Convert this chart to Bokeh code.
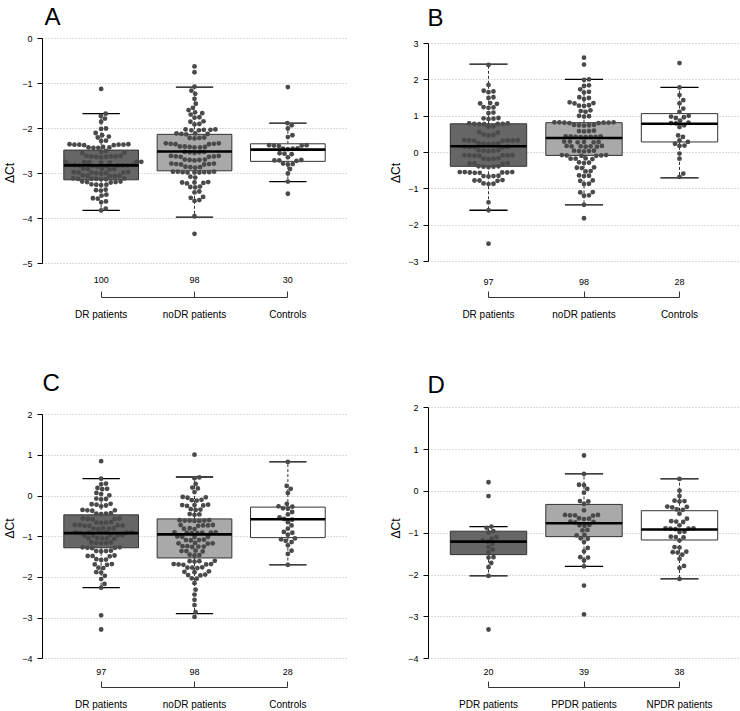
import numpy as np
from bokeh.plotting import figure
from bokeh.models import LinearAxis, FixedTicker, Range1d, Label
from bokeh.layouts import gridplot
from bokeh.embed import file_html
from bokeh.resources import INLINE

FONT = "Liberation Sans"

# ------------------------------------------------------------------ data
groups_ABC = ["DR patients", "noDR patients", "Controls"]
groups_D = ["PDR patients", "PPDR patients", "NPDR patients"]

A_counts = [100, 98, 30]
B_counts = [97, 98, 28]
C_counts = [97, 98, 28]
D_counts = [20, 39, 38]

A_ticks = [-5, -4, -3, -2, -1, 0]
B_ticks = [-3, -2, -1, 0, 1, 2, 3]
C_ticks = [-4, -3, -2, -1, 0, 1, 2]
D_ticks = [-4, -3, -2, -1, 0, 1, 2]

# box statistics (one value per group)
A_q1 = [-3.14, -2.94, -2.73]
A_med = [-2.82, -2.51, -2.47]
A_q3 = [-2.48, -2.13, -2.34]
A_wlo = [-3.82, -3.97, -3.18]
A_whi = [-1.67, -1.08, -1.88]

B_q1 = [-0.38, -0.08, 0.29]
B_med = [0.17, 0.40, 0.79]
B_q3 = [0.79, 0.82, 1.07]
B_wlo = [-1.59, -1.44, -0.70]
B_whi = [2.43, 2.01, 1.79]

C_q1 = [-1.27, -1.52, -1.02]
C_med = [-0.91, -0.94, -0.57]
C_q3 = [-0.46, -0.56, -0.27]
C_wlo = [-2.25, -2.89, -1.69]
C_whi = [0.43, 0.47, 0.84]

D_q1 = [-1.51, -1.08, -1.16]
D_med = [-1.20, -0.76, -0.91]
D_q3 = [-0.95, -0.31, -0.46]
D_wlo = [-2.02, -1.79, -2.09]
D_whi = [-0.84, 0.42, 0.30]

# individual points
A_DR = [
    -1.12, -1.67, -1.72, -1.78, -1.85, -2.00, -2.01, -2.10, -2.15, -2.18, -2.20,
    -2.27, -2.28,
    -2.35, -2.36, -2.36, -2.37, -2.36, -2.35, -2.37, -2.36,
    -2.42, -2.43, -2.42, -2.41, -2.43,
    -2.50, -2.52, -2.55, -2.54,
    -2.61, -2.62, -2.63, -2.62, -2.61, -2.63, -2.62, -2.64,
    -2.74, -2.75, -2.76, -2.75, -2.74, -2.76, -2.75,
    -2.81, -2.82, -2.83, -2.82, -2.81, -2.83, -2.82, -2.84, -2.82, -2.81,
    -2.89, -2.90, -2.91, -2.90, -2.89,
    -2.97, -2.98, -2.99, -2.98, -2.97, -2.99, -2.98, -3.00,
    -3.05, -3.06, -3.04, -3.05, -3.06,
    -3.11, -3.12, -3.13, -3.12, -3.11, -3.13, -3.12,
    -3.18, -3.19, -3.20, -3.19, -3.18,
    -3.24, -3.25, -3.26, -3.25,
    -3.36, -3.37, -3.38, -3.47, -3.49, -3.55, -3.56, -3.62, -3.64, -3.78, -3.82,
]
A_noDR = [
    -0.62, -0.75, -1.07, -1.16, -1.23, -1.34, -1.45, -1.54, -1.59,
    -1.64, -1.66, -1.69, -1.75, -1.76, -1.84, -1.85, -1.90, -1.91,
    -2.02, -2.03, -2.04, -2.03, -2.02, -2.04,
    -2.11, -2.12, -2.13, -2.12, -2.11,
    -2.20, -2.21, -2.22, -2.21,
    -2.33, -2.34, -2.35, -2.34, -2.33, -2.35,
    -2.40, -2.41, -2.42, -2.41, -2.40, -2.42,
    -2.52, -2.53, -2.54, -2.53, -2.52,
    -2.61, -2.62, -2.63, -2.62, -2.61, -2.63,
    -2.69, -2.70, -2.71, -2.70, -2.69,
    -2.78, -2.79, -2.80, -2.79, -2.78, -2.80,
    -2.85, -2.86, -2.87, -2.86,
    -2.96, -2.97, -2.98, -2.97, -2.96, -2.98, -2.97, -2.96, -2.98,
    -3.07, -3.09,
    -3.19, -3.20, -3.21, -3.20, -3.22,
    -3.29, -3.30, -3.31, -3.40, -3.42, -3.52, -3.54, -3.59, -3.61,
    -3.95, -4.34,
]
A_Ctrl = [
    -1.08, -1.88, -1.93, -2.00, -2.15, -2.19,
    -2.37, -2.38, -2.39, -2.38, -2.37,
    -2.45, -2.44, -2.46, -2.45,
    -2.55, -2.56, -2.57, -2.64,
    -2.70, -2.71, -2.72, -2.71,
    -2.79, -2.78, -2.80, -2.90, -3.00, -3.18, -3.45,
]

B_DR = [
    2.41, 1.86, 1.70, 1.68, 1.66, 1.52, 1.50, 1.36, 1.35, 1.34, 1.25, 1.24, 1.23,
    1.10, 1.08, 0.95, 0.94, 0.93, 0.92,
    0.79, 0.80, 0.78, 0.79, 0.80, 0.78, 0.79,
    0.71, 0.72, 0.56, 0.55, 0.48, 0.49, 0.47,
    0.33, 0.34, 0.32, 0.33, 0.34, 0.32, 0.33,
    0.24, 0.25, 0.23, 0.24, 0.25,
    0.15, 0.16, 0.14, 0.15, 0.16,
    0.05, 0.06, 0.04, 0.05, 0.06,
    -0.08, -0.07, -0.09, -0.08, -0.07, -0.09, -0.08,
    -0.17, -0.16, -0.18, -0.17,
    -0.30, -0.29, -0.31, -0.30,
    -0.39, -0.38, -0.40, -0.39, -0.38,
    -0.55, -0.54, -0.56, -0.55, -0.54, -0.56, -0.55, -0.54,
    -0.65, -0.64, -0.66, -0.65,
    -0.77, -0.76, -0.78, -0.77,
    -0.86, -0.87, -0.85,
    -1.37, -1.59, -2.51,
]
B_noDR = [
    2.61, 2.42, 2.01, 2.00, 1.85, 1.83, 1.74, 1.67, 1.65, 1.52, 1.50, 1.47,
    1.38, 1.36, 1.35, 1.30, 1.29, 1.28, 1.16, 1.14, 1.12, 1.01, 1.00, 0.99,
    0.82, 0.83, 0.81, 0.82, 0.83, 0.81, 0.82, 0.83,
    0.75, 0.76, 0.74, 0.75, 0.76,
    0.59, 0.60, 0.58, 0.59,
    0.43, 0.44, 0.42, 0.43, 0.44, 0.42, 0.43, 0.44,
    0.29, 0.30, 0.28, 0.29, 0.30, 0.28,
    0.17, 0.18, 0.16, 0.17, 0.18, 0.16, 0.17,
    0.04, 0.05, 0.03, 0.04, 0.05,
    -0.08, -0.07, -0.09, -0.08, -0.07, -0.09,
    -0.17, -0.16, -0.18, -0.17,
    -0.28, -0.27, -0.29, -0.42, -0.41, -0.43, -0.51, -0.52,
    -0.64, -0.63, -0.65, -0.77, -0.78, -0.86, -0.87,
    -1.09, -1.10, -1.18, -1.19, -1.44, -1.81,
]
B_Ctrl = [
    2.46, 1.79, 1.58, 1.44, 1.35, 1.21, 1.12, 1.01, 0.99, 0.97, 0.95, 0.88,
    0.81, 0.80, 0.82, 0.75, 0.70, 0.47, 0.43, 0.33, 0.29, 0.24, 0.19, 0.18,
    -0.03, -0.17, -0.58, -0.67,
]

C_DR = [
    0.86, 0.43, 0.31, 0.29, 0.20, 0.18, 0.17, 0.08, 0.05, 0.02, -0.06, -0.07, -0.08,
    -0.19, -0.21, -0.20, -0.23, -0.25,
    -0.35, -0.34, -0.36, -0.35,
    -0.43, -0.42, -0.44, -0.43,
    -0.56, -0.55, -0.57, -0.56, -0.55,
    -0.65, -0.64, -0.66, -0.65,
    -0.72, -0.71, -0.73, -0.72, -0.71, -0.73,
    -0.80, -0.79, -0.81, -0.80, -0.79,
    -0.90, -0.89, -0.91, -0.90, -0.89, -0.91, -0.90,
    -0.96, -0.97, -0.95, -0.96, -0.97,
    -1.04, -1.03, -1.05, -1.04, -1.03,
    -1.15, -1.14, -1.16, -1.15, -1.14,
    -1.27, -1.26, -1.28, -1.27, -1.26,
    -1.35, -1.34, -1.36, -1.35,
    -1.47, -1.46, -1.48, -1.47,
    -1.56, -1.55, -1.57, -1.68, -1.67, -1.69, -1.76, -1.77, -1.88, -1.87,
    -1.96, -2.04, -2.16, -2.25, -2.93, -3.28,
]
C_noDR = [
    1.02, 0.46, 0.44, 0.30, 0.21, 0.19, 0.10, -0.02, -0.03, -0.04, -0.09, -0.10, -0.11,
    -0.22, -0.21, -0.23, -0.22, -0.24,
    -0.33, -0.32, -0.34, -0.45, -0.44, -0.46,
    -0.60, -0.59, -0.61, -0.60, -0.59, -0.61, -0.60,
    -0.72, -0.71, -0.73, -0.72, -0.71,
    -0.80, -0.79, -0.81,
    -0.90, -0.89, -0.91, -0.90, -0.89, -0.91, -0.90,
    -1.00, -0.99, -1.01, -1.00,
    -1.08, -1.07, -1.09, -1.08,
    -1.16, -1.15, -1.17, -1.16,
    -1.24, -1.23, -1.25, -1.24, -1.23,
    -1.35, -1.34, -1.36, -1.35,
    -1.45, -1.44, -1.46,
    -1.60, -1.59, -1.61, -1.60,
    -1.68, -1.67, -1.69, -1.68, -1.67,
    -1.76, -1.75, -1.77, -1.76,
    -1.86, -1.85, -1.87, -1.94, -1.93, -1.95, -2.02, -2.03,
    -2.14, -2.30, -2.42, -2.55, -2.68, -2.85, -2.97,
]
C_Ctrl = [
    0.84, 0.25, 0.18, 0.08, -0.19, -0.25, -0.26, -0.30, -0.31, -0.39, -0.45, -0.52,
    -0.56, -0.58, -0.64, -0.72, -0.80, -0.88, -0.90, -0.95, -1.04, -1.06, -1.10,
    -1.13, -1.21, -1.34, -1.42, -1.69,
]

D_PDR = [
    0.22, -0.11, -0.84, -0.87, -0.95, -0.98, -1.09, -1.13, -1.17, -1.20, -1.25,
    -1.33, -1.39, -1.45, -1.57, -1.58, -1.71, -1.81, -2.02, -3.30,
]
D_PPDR = [
    0.86, 0.42, 0.16, 0.15, 0.06, -0.03, -0.23, -0.24, -0.30, -0.45,
    -0.57, -0.56, -0.58, -0.57, -0.56,
    -0.65, -0.64, -0.66, -0.73, -0.72, -0.74, -0.81, -0.80, -0.82,
    -0.93, -0.92, -1.05, -1.04, -1.13, -1.12,
    -1.21, -1.35, -1.43, -1.57, -1.58, -1.65, -1.79, -2.25, -2.94,
]
D_NPDR = [
    0.30, 0.02, -0.11, -0.23, -0.22, -0.24, -0.37, -0.36, -0.38, -0.43, -0.44,
    -0.53, -0.65, -0.72, -0.71, -0.73, -0.81,
    -0.89, -0.88, -0.90, -0.89, -0.88,
    -0.97, -0.96, -1.09, -1.08, -1.10, -1.17, -1.33, -1.34,
    -1.45, -1.44, -1.46, -1.51, -1.61, -1.78, -1.83, -2.09,
]

BOX_FILL = ["#666666", "#a9a9a9", "#ffffff"]


# ------------------------------------------------------------------ helpers
def swarm_offsets(vals, ypx, d):
    """Beeswarm x offsets (pixels) for points at y pixel = val*ypx."""
    vals = np.asarray(vals, dtype=float)
    ys = vals * ypx
    order = np.argsort(vals, kind="stable")
    px_l, py_l = [], []
    out = np.zeros(len(vals))
    for i in order:
        y = ys[i]
        cands = [0.0]
        for qx, qy in zip(px_l, py_l):
            dy = abs(qy - y)
            if dy < d:
                dx = np.sqrt(d * d - dy * dy)
                cands += [qx + dx, qx - dx]
        cands.sort(key=abs)
        chosen = cands[-1]
        for c in cands:
            if all((c - qx) ** 2 + (y - qy) ** 2 >= d * d - 1e-6 for qx, qy in zip(px_l, py_l)):
                chosen = c
                break
        out[i] = chosen
        px_l.append(chosen)
        py_l.append(y)
    return out


def build(letter, groups, counts, series, q1, med, q3, wlo, whi, yticks, geo):
    ox, oy, W, H = geo["fig"]
    fl, fr = geo["frame_x"]
    (v1, p1), (v2, p2) = geo["yref"]
    sy = (p2 - p1) / (v1 - v2)
    y_end = v1 + (p1 - oy) / sy
    y_start = v1 - (oy + H - p1) / sy
    (c1, xp1), (c3, xp3) = geo["xref"]
    sx = (xp3 - xp1) / (c3 - c1)
    x_start = c1 - (xp1 - fl) / sx
    x_end = c1 + (fr - xp1) / sx

    def py2v(pix):
        return v1 - (pix - p1) / sy

    p = figure(width=W, height=H, x_range=Range1d(x_start, x_end),
               y_range=Range1d(y_start, y_end), output_backend="svg",
               toolbar_location=None, x_axis_location=None, y_axis_location="left",
               min_border_left=fl - ox, min_border_right=ox + W - fr,
               min_border_top=0, min_border_bottom=0)
    p.title.visible = False
    p.outline_line_color = None
    p.background_fill_color = "white"
    p.border_fill_color = "white"
    p.xgrid.visible = False

    yax = p.yaxis[0]
    yax.ticker = FixedTicker(ticks=yticks)
    yax.bounds = (min(yticks), max(yticks))
    yax.major_tick_out = 5
    yax.major_tick_in = 0
    yax.minor_tick_line_color = None
    yax.axis_line_color = "black"
    yax.major_tick_line_color = "black"
    yax.major_label_standoff = 5
    yax.major_label_text_font = FONT
    yax.major_label_text_font_size = "9px"
    yax.major_label_text_color = "black"
    yax.axis_label = "\u0394Ct"
    yax.axis_label_text_font = FONT
    yax.axis_label_text_font_size = "12px"
    yax.axis_label_text_font_style = "normal"
    yax.axis_label_text_color = "black"
    yax.axis_label_standoff = 2

    p.ygrid.ticker = FixedTicker(ticks=yticks)
    p.ygrid.bounds = (min(yticks), max(yticks))
    p.ygrid.grid_line_color = "#b8b8b8"
    p.ygrid.grid_line_dash = "1 2"
    p.ygrid.grid_line_width = 1

    xs = np.arange(1, len(groups) + 1, dtype=float)
    bw = 0.8
    cap = 0.2

    p.vbar(x=xs, width=bw, top=q3, bottom=q1, fill_color=BOX_FILL,
           line_color="#333333", line_width=1)
    p.segment(x0=xs, y0=q3, x1=xs, y1=whi, line_color="#333333", line_dash="3 2", line_width=1)
    p.segment(x0=xs, y0=q1, x1=xs, y1=wlo, line_color="#333333", line_dash="3 2", line_width=1)
    p.segment(x0=xs - cap, y0=whi, x1=xs + cap, y1=whi, line_color="black", line_width=1.3)
    p.segment(x0=xs - cap, y0=wlo, x1=xs + cap, y1=wlo, line_color="black", line_width=1.3)

    px, pyv = [], []
    for i, vals in enumerate(series):
        off = swarm_offsets(vals, sy, 5.0)
        px.extend(list(xs[i] + off / sx))
        pyv.extend(list(vals))
    p.scatter(x=px, y=pyv, size=4.8, fill_color="#4a4a4a", line_color=None)

    p.segment(x0=xs - bw / 2, y0=med, x1=xs + bw / 2, y1=med, line_color="black", line_width=2.6)

    cax = LinearAxis(fixed_location=py2v(geo["counts_c"] - 10),
                     ticker=FixedTicker(ticks=list(xs)),
                     major_label_overrides={int(x): str(c) for x, c in zip(xs, counts)},
                     axis_line_color=None, major_tick_line_color=None,
                     minor_tick_line_color=None, major_label_standoff=2,
                     major_label_text_font=FONT, major_label_text_font_size="9px",
                     major_label_text_color="black")
    p.add_layout(cax, "below")

    bax = LinearAxis(fixed_location=py2v(geo["bracket"]), bounds=(1, len(groups)),
                     ticker=FixedTicker(ticks=list(xs)),
                     major_label_overrides={int(x): g for x, g in zip(xs, groups)},
                     axis_line_color="#333333", axis_line_width=1,
                     major_tick_in=6, major_tick_out=0, major_tick_line_color="#333333",
                     minor_tick_line_color=None, major_label_standoff=11,
                     major_label_text_font=FONT, major_label_text_font_size="10px",
                     major_label_text_color="black")
    p.add_layout(bax, "below")

    tl, tb = geo["title"]
    p.add_layout(Label(x=tl - fl, y=oy + H - tb, x_units="screen", y_units="screen",
                       text=letter, text_font=FONT, text_font_size="24px",
                       text_baseline="alphabetic", text_align="left", text_color="black"))
    return p


geoA = dict(fig=(0, 0, 370, 345), frame_x=(35, 347), yref=((0, 38), (-5, 263)),
            xref=((1, 95), (3, 286)), counts_c=278.5, bracket=297, title=(37, 16))
geoB = dict(fig=(370, 0, 370, 345), frame_x=(428, 740), yref=((3, 43), (-3, 261)),
            xref=((1, 488), (3, 679)), counts_c=280, bracket=297, title=(427, 17))
geoC = dict(fig=(0, 345, 370, 366), frame_x=(35, 347), yref=((2, 414.3), (-4, 658.3)),
            xref=((1, 95), (3, 286)), counts_c=670, bracket=687, title=(35, 382))
geoD = dict(fig=(370, 345, 370, 366), frame_x=(428, 740), yref=((2, 407.3), (-4, 658.3)),
            xref=((1, 488), (3, 679)), counts_c=670, bracket=687, title=(427, 384))

pA = build("A", groups_ABC, A_counts, [A_DR, A_noDR, A_Ctrl], A_q1, A_med, A_q3, A_wlo, A_whi, A_ticks, geoA)
pB = build("B", groups_ABC, B_counts, [B_DR, B_noDR, B_Ctrl], B_q1, B_med, B_q3, B_wlo, B_whi, B_ticks, geoB)
pC = build("C", groups_ABC, C_counts, [C_DR, C_noDR, C_Ctrl], C_q1, C_med, C_q3, C_wlo, C_whi, C_ticks, geoC)
pD = build("D", groups_D, D_counts, [D_PDR, D_PPDR, D_NPDR], D_q1, D_med, D_q3, D_wlo, D_whi, D_ticks, geoD)

grid = gridplot([[pA, pB], [pC, pD]], toolbar_location=None)

open("out.html", "w").write(file_html(grid, INLINE))
